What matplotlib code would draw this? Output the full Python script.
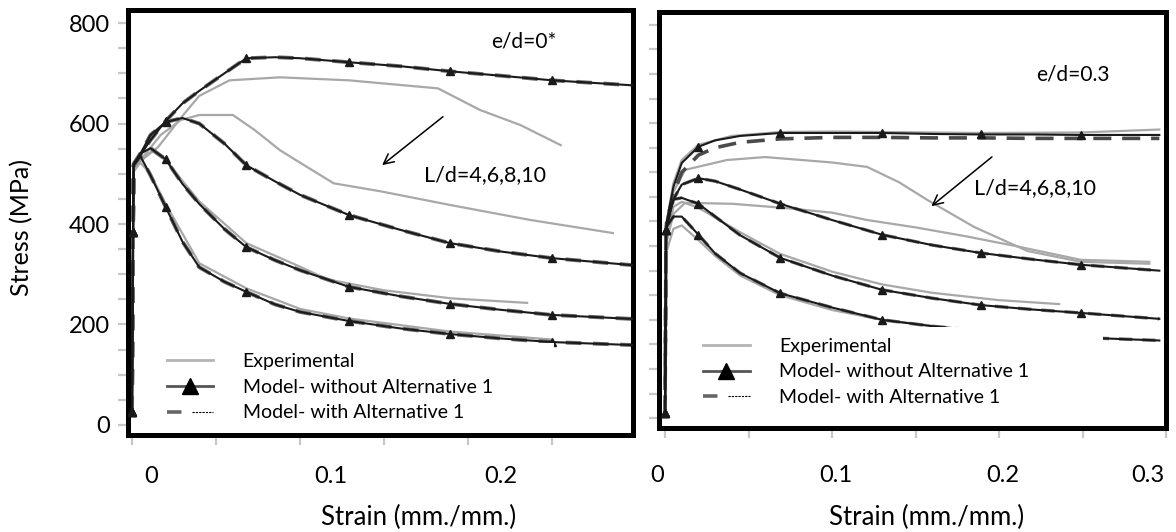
import matplotlib
matplotlib.use("Agg")
import matplotlib.pyplot as plt
import matplotlib.transforms as mtransforms
from matplotlib.lines import Line2D
from matplotlib.patches import Rectangle
from matplotlib.legend_handler import HandlerTuple
from matplotlib.ticker import MultipleLocator

plt.rcParams["font.family"] = ["Lato", "DejaVu Sans"]

##########
#  Data  #
##########

# e/d = 0 (left panel) - model curves share one strain grid
strain_left = [0, 0.0006, 0.001, 0.005, 0.011, 0.02, 0.03, 0.04, 0.055, 0.068,
               0.085, 0.1, 0.129, 0.16, 0.189, 0.22, 0.25, 0.298]
marks_left = [0, 1, 5, 9, 12, 14, 16]
model1_left = [26, 384, 517, 537, 567, 605, 640, 665, 700, 730, 732, 730, 722, 714, 704, 695, 686, 676]
model2_left = [26, 384, 517, 540, 577, 603, 611, 600, 560, 517, 485, 458, 418, 388, 362, 345, 332, 318]
model3_left = [26, 384, 520, 540, 551, 529, 480, 440, 390, 354, 328, 308, 275, 256, 241, 229, 219, 211]
model4_left = [26, 384, 517, 535, 497, 434, 365, 314, 285, 265, 240, 225, 207, 192, 181, 172, 165, 159]
# with Alternative 1 the left curves fall on top of the model curves
alt1_left = model1_left
alt2_left = model2_left
alt3_left = model3_left
alt4_left = model4_left

exp1_left_x = [0, 0.001, 0.005, 0.0155, 0.029, 0.04, 0.058, 0.088, 0.129, 0.182, 0.207, 0.231, 0.255]
exp1_left_y = [26, 505, 525, 553, 611, 655, 686, 692, 686, 670, 627, 597, 557]
exp2_left_x = [0, 0.001, 0.005, 0.017, 0.029, 0.04, 0.06, 0.073, 0.088, 0.1, 0.12, 0.148, 0.189, 0.237, 0.286]
exp2_left_y = [26, 505, 527, 577, 607, 617, 617, 587, 547, 522, 481, 465, 438, 408, 382]
exp3_left_x = [0, 0.001, 0.005, 0.012, 0.02, 0.04, 0.068, 0.1, 0.116, 0.15, 0.19, 0.235]
exp3_left_y = [26, 505, 530, 545, 527, 445, 362, 315, 290, 268, 252, 243]
exp4_left_x = [0, 0.001, 0.005, 0.011, 0.02, 0.04, 0.068, 0.1, 0.129, 0.189, 0.25]
exp4_left_y = [26, 505, 522, 500, 440, 322, 272, 231, 212, 186, 170]

# e/d = 0.3 (right panel)
strain_right = [0, 0.0006, 0.001, 0.005, 0.01, 0.02, 0.03, 0.045, 0.069, 0.1,
                0.13, 0.16, 0.189, 0.22, 0.249, 0.296]
marks_right = [0, 1, 5, 8, 10, 12, 14]
model1_right = [10, 383, 400, 470, 519, 552, 565, 574, 580, 580, 580, 578, 577, 577, 576, 576]
model2_right = [10, 383, 390, 445, 475, 488, 482, 465, 436, 403, 373, 352, 336, 323, 312, 300]
model3_right = [10, 383, 390, 445, 448, 436, 410, 372, 326, 290, 261, 244, 230, 221, 214, 202]
model4_right = [10, 383, 390, 410, 410, 373, 335, 295, 254, 225, 200, 187, 178, 170, 164, 158]
alt1_right = [10, 383, 400, 455, 500, 535, 550, 561, 568, 571, 571, 570, 570, 569, 569, 569]
alt2_right = model2_right
alt3_right = model3_right
alt4_right = model4_right

exp1_right_x = [0, 0.001, 0.005, 0.01, 0.02, 0.04, 0.069, 0.1, 0.13, 0.189, 0.249, 0.296]
exp1_right_y = [10, 400, 478, 525, 556, 574, 582, 583, 582, 580, 581, 587]
exp2_right_x = [0, 0.001, 0.005, 0.012, 0.037, 0.06, 0.1, 0.121, 0.14, 0.157, 0.185, 0.217, 0.249, 0.29]
exp2_right_y = [10, 380, 460, 505, 525, 531, 520, 511, 480, 444, 389, 340, 318, 314]
exp3_right_x = [0, 0.001, 0.005, 0.012, 0.04, 0.07, 0.1, 0.121, 0.15, 0.18, 0.21, 0.249, 0.29]
exp3_right_y = [10, 360, 415, 438, 436, 428, 418, 403, 388, 370, 350, 322, 318]
exp4_right_x = [0, 0.001, 0.005, 0.01, 0.02, 0.045, 0.069, 0.1, 0.13, 0.16, 0.2, 0.236]
exp4_right_y = [10, 360, 430, 440, 428, 378, 334, 298, 272, 255, 240, 232]
exp5_right_x = [0, 0.001, 0.005, 0.01, 0.02, 0.03, 0.045, 0.069, 0.1, 0.13, 0.16]
exp5_right_y = [10, 340, 385, 392, 362, 330, 290, 250, 220, 200, 188]

yticks = [0, 200, 400, 600, 800]
xticks_left = [0, 0.1, 0.2]
xticks_right = [0, 0.1, 0.2, 0.3]
legend_labels = ["Experimental", "Model- without Alternative 1", "Model- with Alternative 1"]

##########
#  Plot  #
##########

exp_color = "#a8a8a8"
model_color = "#1a1a1a"
alt_color = "#6a6a6a"

fig = plt.figure(figsize=(11.76, 5.32), dpi=100)
ax_l = fig.add_axes([0.1088, 0.1823, 0.4295, 0.7989])
ax_r = fig.add_axes([0.5604, 0.1955, 0.4311, 0.7819])


def draw_panel(ax, grid, marks, models, alts, exps, alt_styles):
    for ex, ey in exps:
        ax.plot(ex, ey, color=exp_color, lw=1.6, zorder=1)
    for alt, (c, lw, dash) in zip(alts, alt_styles):
        ax.plot(grid, alt, color=c, lw=lw, dashes=dash, zorder=2)
    for m in models:
        ax.plot(grid, m, color=model_color, lw=1.5, marker="^", ms=6,
                markevery=marks, zorder=3)


left_alt_style = [(alt_color, 2.8, (4, 3))] * 4
draw_panel(ax_l, strain_left, marks_left,
           [model1_left, model2_left, model3_left, model4_left],
           [alt1_left, alt2_left, alt3_left, alt4_left],
           [(exp1_left_x, exp1_left_y), (exp2_left_x, exp2_left_y),
            (exp3_left_x, exp3_left_y), (exp4_left_x, exp4_left_y)],
           left_alt_style)

right_alt_style = [("#4a4a4a", 2.6, (5, 3))] + [(alt_color, 2.4, (4, 3))] * 3
draw_panel(ax_r, strain_right, marks_right,
           [model1_right, model2_right, model3_right, model4_right],
           [alt1_right, alt2_right, alt3_right, alt4_right],
           [(exp1_right_x, exp1_right_y), (exp2_right_x, exp2_right_y),
            (exp3_right_x, exp3_right_y), (exp4_right_x, exp4_right_y),
            (exp5_right_x, exp5_right_y)],
           right_alt_style)

ax_l.set_xlim(-0.0024, 0.298)
ax_r.set_xlim(-0.0036, 0.2964)
for ax in (ax_l, ax_r):
    ax.set_ylim(-20, 826)
    for sp in ax.spines.values():
        sp.set_linewidth(3.6)
        sp.set_color("black")
    ax.xaxis.set_minor_locator(MultipleLocator(0.05))
    ax.yaxis.set_minor_locator(MultipleLocator(50))
    ax.xaxis.remove_overlapping_locs = False
    ax.yaxis.remove_overlapping_locs = False
    ax.tick_params(which="major", length=0, labelsize=17)
    ax.tick_params(which="minor", length=7, width=1.6, color="#c8c8c8", direction="out")

ax_l.set_yticks(yticks)
ax_l.tick_params(axis="y", pad=13)
ax_l.tick_params(axis="x", pad=22)
ax_r.set_yticks(yticks)
ax_r.tick_params(axis="y", labelleft=False)
ax_r.tick_params(axis="x", pad=27)

ax_l.set_xticks(xticks_left, [f"{v:g}" for v in xticks_left])
ax_r.set_xticks(xticks_right, [f"{v:g}" for v in xticks_right])
for ax, offsets in ((ax_l, [19, 31, 32]), (ax_r, [-8, 4, 4, -18])):
    for lab, dx in zip(ax.get_xticklabels(), offsets):
        lab.set_transform(lab.get_transform() +
                          mtransforms.ScaledTranslation(dx / 100, 0, fig.dpi_scale_trans))

# annotations
ax_l.text(0.784, 0.925, "e/d=0*", transform=ax_l.transAxes, ha="center", va="center", fontsize=15)
ax_l.text(0.707, 0.612, "L/d=4,6,8,10", transform=ax_l.transAxes, ha="center", va="center",
          fontsize=15.5, zorder=6,
          bbox=dict(facecolor="white", edgecolor="none", pad=6))
ax_l.annotate("", xy=(0.499, 0.631), xytext=(0.628, 0.753), xycoords="axes fraction",
              arrowprops=dict(arrowstyle="->", lw=1.1, color="black", mutation_scale=18), zorder=7)

ax_r.text(0.817, 0.849, "e/d=0.3", transform=ax_r.transAxes, ha="center", va="center", fontsize=15)
ax_r.text(0.742, 0.577, "L/d=4,6,8,10", transform=ax_r.transAxes, ha="center", va="center",
          fontsize=15.5, zorder=6,
          bbox=dict(facecolor="white", edgecolor="none", pad=6))
ax_r.annotate("", xy=(0.533, 0.529), xytext=(0.661, 0.656), xycoords="axes fraction",
              arrowprops=dict(arrowstyle="->", lw=1.1, color="black", mutation_scale=18), zorder=7)

# white cover behind the legends (as in the scanned figure)
ax_l.add_patch(Rectangle((0.044, 0.02), 0.80, 0.196, transform=ax_l.transAxes,
                         facecolor="white", edgecolor="none", zorder=4))
ax_r.add_patch(Rectangle((0.035, 0.02), 0.84, 0.223, transform=ax_r.transAxes,
                         facecolor="white", edgecolor="none", zorder=4))

h_exp = Line2D([], [], color="#b4b4b4", lw=2)
h_mod = Line2D([], [], color="#555555", lw=2, marker="^", ms=11, mfc="black", mec="black")
h_alt = (Line2D([], [], color="#666666", lw=2.6, dashes=(4, 2)),
         Line2D([], [], color="black", lw=0.8, dashes=(2, 1)))
for ax, anchor in ((ax_l, (0.05, 0.225)), (ax_r, (0.06, 0.25))):
    leg = ax.legend([h_exp, h_mod, h_alt], legend_labels, loc="upper left",
                    bbox_to_anchor=anchor, fontsize=14, handlelength=2.4,
                    handletextpad=1.5, labelspacing=0.45, borderpad=0.2,
                    frameon=False, handler_map={tuple: HandlerTuple(ndivide=None)})
    leg.set_zorder(6)

fig.text(22 / 1176, 1 - 228 / 532, "Stress (MPa)", rotation=90, ha="center", va="center", fontsize=18)
fig.text(419 / 1176, 1 - 517 / 532, "Strain (mm./mm.)", ha="center", va="center", fontsize=18.5)
fig.text(927 / 1176, 1 - 517 / 532, "Strain (mm./mm.)", ha="center", va="center", fontsize=18.5)

fig.savefig("out.png", dpi=100)
